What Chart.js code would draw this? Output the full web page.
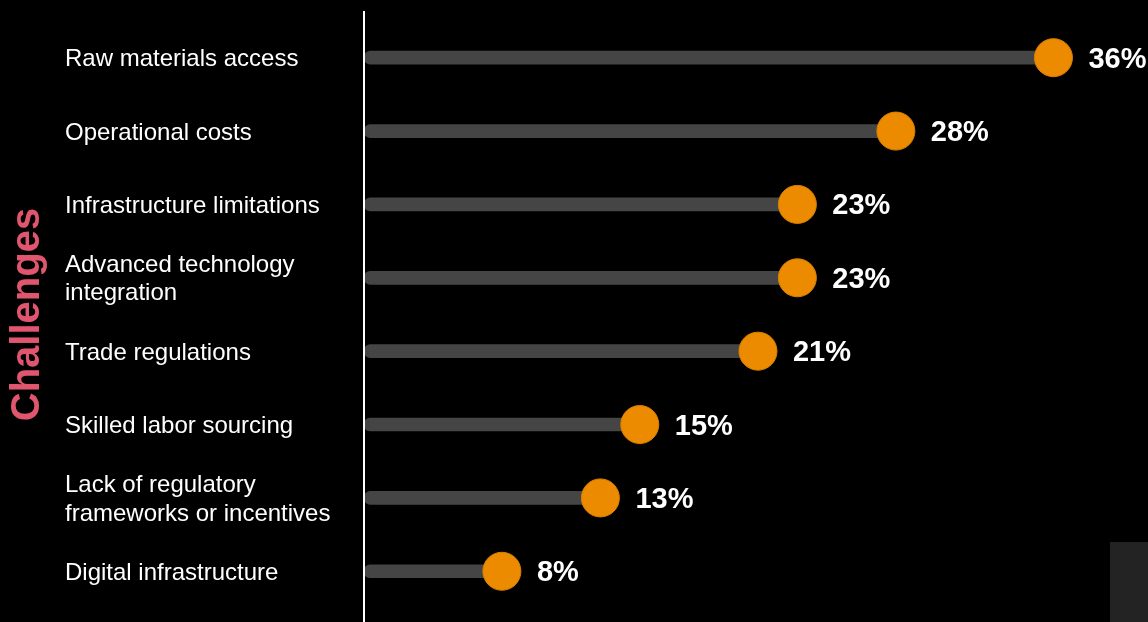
<!DOCTYPE html>
<html>
<head>
<meta charset="utf-8">
<script src="https://cdn.jsdelivr.net/npm/chart.js@4/dist/chart.umd.min.js"></script>
<style>
  html, body { margin: 0; padding: 0; background: #000; }
  #wrap { width: 1148px; height: 622px; position: relative; }
</style>
</head>
<body>
<div id="wrap"><canvas id="challengeChart"></canvas></div>
<script>
// survey data
var challengeLabels = [
  'Raw materials access',
  'Operational costs',
  'Infrastructure limitations',
  ['Advanced technology', 'integration'],
  'Trade regulations',
  'Skilled labor sourcing',
  ['Lack of regulatory', 'frameworks or incentives'],
  'Digital infrastructure'
];
var challengeShares = [36, 28, 23, 23, 21, 15, 13, 8];
var axisTitle = 'Challenges';

var FONT = '"Liberation Sans", Arial, Helvetica, sans-serif';

// white divider line plus the grey block in the lower right corner
const backdrop = {
  id: 'backdrop',
  beforeDraw(chart) {
    const {ctx} = chart;
    ctx.save();
    ctx.fillStyle = '#232323';
    ctx.fillRect(1110, 542, 38, 80);
    ctx.restore();
  },
  afterDraw(chart) {
    const {ctx, chartArea: {left, top}} = chart;
    ctx.save();
    ctx.strokeStyle = '#ffffff';
    ctx.lineWidth = 2;
    ctx.beginPath();
    ctx.moveTo(left, top - 10);
    ctx.lineTo(left, chart.height);
    ctx.stroke();
    ctx.restore();
  }
};

// percentage labels to the right of each dot
const valueLabels = {
  id: 'valueLabels',
  afterDatasetsDraw(chart) {
    const {ctx} = chart;
    const meta = chart.getDatasetMeta(1);
    ctx.save();
    ctx.font = 'bold 29px ' + FONT;
    ctx.fillStyle = '#ffffff';
    ctx.textAlign = 'left';
    ctx.textBaseline = 'middle';
    meta.data.forEach(function (pt, i) {
      ctx.fillText(challengeShares[i] + '%', pt.x + 35, pt.y + 2);
    });
    ctx.restore();
  }
};

new Chart(document.getElementById('challengeChart').getContext('2d'), {
  data: {
    labels: challengeLabels,
    datasets: [{
      type: 'bar',
      indexAxis: 'y',
      data: challengeShares,
      base: 1,
      backgroundColor: '#454545',
      barThickness: 13,
      borderRadius: 7,
      borderSkipped: false,
      order: 2
    }, {
      type: 'line',
      indexAxis: 'y',
      data: challengeShares,
      showLine: false,
      pointRadius: 19,
      pointHoverRadius: 19,
      pointBackgroundColor: '#ED8B00',
      pointBorderColor: '#D98000',
      pointBorderWidth: 1,
      order: 1
    }]
  },
  options: {
    responsive: true,
    maintainAspectRatio: false,
    animation: false,
    indexAxis: 'y',
    layout: { autoPadding: false, padding: { top: 21, bottom: 14, left: 0, right: 0 } },
    plugins: {
      legend: { display: false },
      tooltip: { enabled: false },
      title: {
        display: true,
        text: axisTitle,
        position: 'left',
        color: '#E0566E',
        font: { family: FONT, size: 40, weight: 'bold', lineHeight: 1.2 },
        padding: { top: 4, bottom: 13 }
      }
    },
    scales: {
      x: {
        display: false,
        min: 1,
        max: 40.8
      },
      y: {
        type: 'category',
        border: { display: false },
        grid: { display: false, drawTicks: false },
        ticks: {
          color: '#ffffff',
          crossAlign: 'far',
          padding: 0,
          labelOffset: 2,
          font: { family: FONT, size: 24, lineHeight: 1.17 }
        },
        afterFit(axis) { axis.width = 299; }
      }
    }
  },
  plugins: [backdrop, valueLabels]
});
</script>
</body>
</html>
